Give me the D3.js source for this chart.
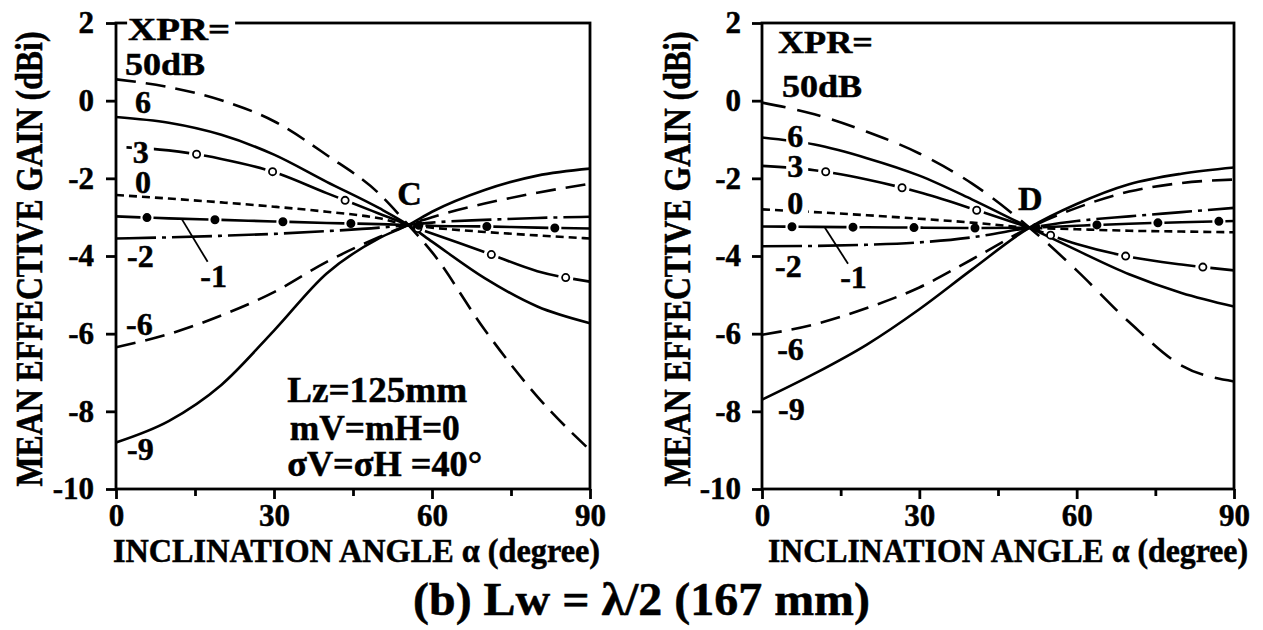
<!DOCTYPE html>
<html>
<head>
<meta charset="utf-8">
<script src="https://cdn.jsdelivr.net/npm/d3@7"></script>
<style>
	body { margin: 0; background: #fff; }
	text { font-family: "Liberation Serif", "Times New Roman", serif; font-weight: bold; fill: #000; stroke: #000; stroke-width: 0.5px; }
</style>
</head>
<body>
<script>

// inclination angles (degree), crossing points C and D included
let anglesC = [0, 10, 20, 30, 40, 50, 55.5, 60, 70, 80, 90];
let anglesD = [0, 10, 20, 30, 40, 51, 60, 70, 80, 90];

let xprLevels = ["50dB", "6", "3", "0", "-1", "-2", "-6", "-9"];

// mean effective gain (dBi), left panel (point C)
let gainC_50 = [0.55, 0.35, 0.01, -0.53, -1.4, -2.4, -3.2, -3.9, -5.9, -7.62, -9.0];
let gainC_6 = [-0.42, -0.57, -0.88, -1.39, -2.09, -2.77, -3.2, -3.63, -4.57, -5.3, -5.73];
let gainC_3 = [-1.19, -1.28, -1.5, -1.84, -2.38, -2.91, -3.2, -3.42, -3.9, -4.39, -4.66];
let gainC_0 = [-2.43, -2.52, -2.62, -2.73, -2.86, -3.03, -3.2, -3.27, -3.38, -3.47, -3.55];
let gainC_m1 = [-2.98, -3.03, -3.07, -3.11, -3.15, -3.18, -3.2, -3.22, -3.24, -3.27, -3.29];
let gainC_m2 = [-3.55, -3.52, -3.48, -3.43, -3.36, -3.27, -3.2, -3.14, -3.07, -3.02, -2.99];
let gainC_m6 = [-6.35, -6.01, -5.53, -4.93, -4.15, -3.51, -3.2, -3.0, -2.65, -2.37, -2.14];
let gainC_m9 = [-8.8, -8.25, -7.32, -5.92, -4.45, -3.54, -3.2, -2.86, -2.3, -1.93, -1.75];

// mean effective gain (dBi), right panel (point D)
let gainD_50 = [-0.05, -0.35, -0.8, -1.36, -2.13, -3.27, -4.37, -5.7, -6.82, -7.23];
let gainD_6 = [-0.95, -1.13, -1.48, -1.93, -2.54, -3.27, -3.85, -4.47, -4.95, -5.3];
let gainD_3 = [-1.68, -1.79, -2.03, -2.36, -2.78, -3.27, -3.69, -4.02, -4.22, -4.37];
let gainD_0 = [-2.8, -2.87, -2.95, -3.04, -3.14, -3.27, -3.31, -3.35, -3.37, -3.39];
let gainD_m1 = [-3.24, -3.25, -3.26, -3.27, -3.28, -3.27, -3.22, -3.17, -3.13, -3.1];
let gainD_m2 = [-3.75, -3.74, -3.71, -3.65, -3.52, -3.27, -3.1, -2.98, -2.87, -2.76];
let gainD_m6 = [-6.03, -5.76, -5.34, -4.81, -4.09, -3.27, -2.76, -2.34, -2.12, -2.03];
let gainD_m9 = [-7.7, -7.03, -6.28, -5.37, -4.35, -3.27, -2.66, -2.15, -1.88, -1.72];

let yTicks = [2, 0, -2, -4, -6, -8, -10];
let xMajor = [0, 30, 60, 90];
let xMinor = [15, 45, 75];

//selects the body and appends the svg
let svg = d3.select("body").append("svg")
	.attr("width", 1263)
	.attr("height", 630);

// line look for each XPR level
let lineStyles = {
	"50dB": { dash: "20,10" },
	"6": { dash: null },
	"3": { marker: "open", gap: 15 },
	"0": { dash: "8,5" },
	"-1": { marker: "dot", gap: 13 },
	"-2": { dash: "40,6,4,6" },
	"-6": { dash: "20,10" },
	"-9": { dash: null }
};

let panels = [
	{
		angles: anglesC,
		series: [gainC_50, gainC_6, gainC_3, gainC_0, gainC_m1, gainC_m2, gainC_m6, gainC_m9],
		left: 116, right: 590, yPad: 12,
		markers: { "3": [81, 78], "-1": [31, 68] },
		dash50: "20,10",
		titleX: 42, xTitle: [113, 487],
		labels: [
			{ t: "XPR=", a: 2.3, v: 1.56, size: 32, len: 102, bg: true },
			{ t: "50dB", a: 1.7, v: 0.66, size: 32, len: 80 },
			{ t: "6", a: 3.6, v: -0.32, size: 32 },
			{ t: "3", a: 3.2, v: -1.6, size: 32, bg: true },
			{ t: "0", a: 3.6, v: -2.38, size: 32 },
			{ t: "-2", a: 2.1, v: -4.28, size: 32 },
			{ t: "-1", a: 16, v: -4.8, size: 32 },
			{ t: "-6", a: 1.9, v: -6.03, size: 32 },
			{ t: "-9", a: 2.1, v: -9.25, size: 32 },
			{ t: "C", a: 53.4, v: -2.69, size: 34 },
			{ t: "Lz=125mm", a: 32.5, v: -7.76, size: 35, len: 180 },
			{ t: "mV=mH=0", a: 33, v: -8.74, size: 35, len: 170 },
			{ t: "σV=σH =40°", a: 32.5, v: -9.67, size: 35, len: 195 }
		],
		leader: [[12.5, -3.05], [17.4, -4.15]]
	},
	{
		angles: anglesD,
		series: [gainD_50, gainD_6, gainD_3, gainD_0, gainD_m1, gainD_m2, gainD_m6, gainD_m9],
		left: 762, right: 1234, yPad: 11,
		markers: { "3": [64, 78], "-1": [30, 61] },
		dash50: "24,12",
		titleX: 690, xTitle: [768, 480],
		labels: [
			{ t: "XPR=", a: 3.05, v: 1.23, size: 32, len: 95 },
			{ t: "50dB", a: 3.8, v: 0.09, size: 32, len: 80 },
			{ t: "6", a: 4.8, v: -1.19, size: 32, bg: true },
			{ t: "3", a: 4.8, v: -1.97, size: 32, bg: true },
			{ t: "0", a: 4.8, v: -2.92, size: 32, bg: true },
			{ t: "-2", a: 2.5, v: -4.54, size: 32 },
			{ t: "-1", a: 14.9, v: -4.82, size: 32 },
			{ t: "-6", a: 2.9, v: -6.68, size: 32 },
			{ t: "-9", a: 3.05, v: -8.22, size: 32 },
			{ t: "D", a: 48.8, v: -2.82, size: 34 }
		],
		leader: [[12, -3.27], [16.4, -4.2]]
	}
];

function drawPanel(p) {
	let x = d3.scaleLinear().domain([0, 90]).range([p.left, p.right]);
	let y = d3.scaleLinear().domain([-10, 2]).range([489, 23]);
	let g = svg.append("g");

	// curves first, the frame and labels go over them
	let line = d3.line()
		.x((d, i) => x(p.angles[i]))
		.y(d => y(d))
		.curve(d3.curveMonotoneX);

	p.series.forEach(function(vals, k) {
		let level = xprLevels[k];
		let st = lineStyles[level];
		let path = g.append("path")
			.datum(vals)
			.attr("d", line)
			.attr("fill", "none")
			.attr("stroke", "#000")
			.attr("stroke-width", 2.6);

		if (level == "50dB") path.attr("stroke-dasharray", p.dash50);
		else if (st.dash) path.attr("stroke-dasharray", st.dash);

		if (st.marker) {
			let offset = p.markers[level][0];
			let spacing = p.markers[level][1];
			path.attr("stroke-dasharray", (spacing - st.gap) + "," + st.gap)
				.attr("stroke-dashoffset", ((spacing - st.gap / 2 - offset) % spacing + spacing) % spacing);
			let node = path.node();
			let total = node.getTotalLength();
			for (let s = offset; s < total; s += spacing) {
				let pt = node.getPointAtLength(s);
				g.append("circle")
					.attr("cx", pt.x)
					.attr("cy", pt.y)
					.attr("r", st.marker == "open" ? 3.6 : 3.6)
					.attr("fill", st.marker == "open" ? "#fff" : "#000")
					.attr("stroke", "#000")
					.attr("stroke-width", 1.8);
			}
		}
	});

	// leader line for the -1 label
	g.append("line")
		.attr("x1", x(p.leader[0][0])).attr("y1", y(p.leader[0][1]))
		.attr("x2", x(p.leader[1][0])).attr("y2", y(p.leader[1][1]))
		.attr("stroke", "#000")
		.attr("stroke-width", 1.8);

	// frame
	g.append("rect")
		.attr("x", x(0))
		.attr("y", y(2))
		.attr("width", x(90) - x(0))
		.attr("height", y(-10) - y(2))
		.attr("fill", "none")
		.attr("stroke", "#000")
		.attr("stroke-width", 2.8);

	let yAxis = g.append("g")
		.attr("transform", `translate(${x(0)},0)`)
		.call(d3.axisLeft(y).tickValues(yTicks).tickSize(10).tickPadding(p.yPad).tickFormat(d => String(d)));

	let xAxis = g.append("g")
		.attr("transform", `translate(0,${y(-10)})`)
		.call(d3.axisBottom(x).tickValues(xMajor).tickSize(10).tickPadding(5).tickFormat(d => String(d)));

	let xAxisMinor = g.append("g")
		.attr("transform", `translate(0,${y(-10)})`)
		.call(d3.axisBottom(x).tickValues(xMinor).tickSize(7).tickFormat(""));

	[yAxis, xAxis, xAxisMinor].forEach(function(ax) {
		ax.select(".domain").remove();
		ax.selectAll(".tick line").attr("stroke", "#000").attr("stroke-width", 2.8);
		ax.selectAll(".tick text")
			.attr("font-family", null)
			.attr("fill", "#000")
			.style("font-size", "31px");
	});

	// curve labels and notes
	p.labels.forEach(function(lb) {
		let t = g.append("text")
			.attr("x", x(lb.a))
			.attr("y", y(lb.v))
			.style("font-size", lb.size + "px")
			.text(lb.t);
		if (lb.len) t.attr("textLength", lb.len).attr("lengthAdjust", "spacingAndGlyphs");
		if (lb.bg) {
			let b = t.node().getBBox();
			g.insert("rect", () => t.node())
				.attr("x", b.x - 1)
				.attr("y", y(lb.v) - lb.size * 0.72)
				.attr("width", b.width + 6)
				.attr("height", lb.size * 0.78)
				.attr("fill", "#fff");
		}
	});

	// axis titles, glyphs a little taller across as in the scan
	g.append("text")
		.attr("transform", `translate(${p.titleX},259) rotate(-90) scale(1,1.18)`)
		.attr("text-anchor", "middle")
		.attr("textLength", 455)
		.attr("lengthAdjust", "spacingAndGlyphs")
		.style("font-size", "32px")
		.text("MEAN EFFECTIVE GAIN (dBi)");

	g.append("text")
		.attr("transform", `translate(${p.xTitle[0]},562) scale(1,1.08)`)
		.attr("textLength", p.xTitle[1])
		.attr("lengthAdjust", "spacingAndGlyphs")
		.style("font-size", "32px")
		.text("INCLINATION ANGLE α (degree)");
}

panels.forEach(drawPanel);

svg.append("text")
	.attr("x", 413)
	.attr("y", 615)
	.attr("textLength", 457)
	.attr("lengthAdjust", "spacingAndGlyphs")
	.style("font-size", "46px")
	.text("(b) Lw = λ/2 (167 mm)");

</script>
</body>
</html>
